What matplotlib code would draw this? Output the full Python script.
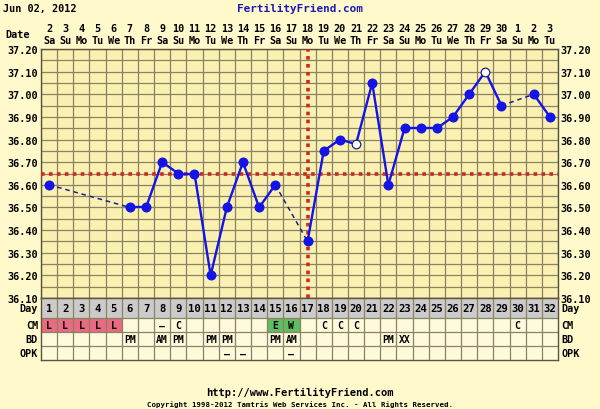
"""
FertilityFriend-style BBT chart: temperature grid on top, CM/BD/OPK table below.
"""
import numpy as np
import matplotlib
matplotlib.use("Agg")
import matplotlib.pyplot as plt

# ---- data ----------------------------------------------------------------
cycle_days = list(range(1, 33))
dates = [2, 3, 4, 5, 6, 7, 8, 9, 10, 11, 12, 13, 14, 15, 16, 17, 18, 19, 20,
         21, 22, 23, 24, 25, 26, 27, 28, 29, 30, 1, 2, 3]
weekdays = ["Sa", "Su", "Mo", "Tu", "We", "Th", "Fr"] * 4 + ["Sa", "Su", "Mo", "Tu"]
temps = [36.60, None, None, None, None, 36.50, 36.50, 36.70, 36.65, 36.65,
         36.20, 36.50, 36.70, 36.50, 36.60, None, 36.35, 36.75, 36.80, 36.78,
         37.05, 36.60, 36.85, 36.85, 36.85, 36.90, 37.00, 37.10, 36.95, None,
         37.00, 36.90]
open_days = [20, 28]
coverline = 36.65
ovulation_day = 17
y_ticks = [36.10, 36.20, 36.30, 36.40, 36.50, 36.60, 36.70, 36.80, 36.90,
           37.00, 37.10, 37.20]

cm = {1: "L", 2: "L", 3: "L", 4: "L", 5: "L", 8: "-", 9: "C", 15: "E",
      16: "W", 18: "C", 19: "C", 20: "C", 30: "C"}
bd = {6: "PM", 8: "AM", 9: "PM", 11: "PM", 12: "PM", 15: "PM", 16: "AM",
      22: "PM", 23: "XX"}
opk = {12: "-", 13: "-", 16: "-"}
row_names = ["Day", "CM", "BD", "OPK"]

# ---- style ---------------------------------------------------------------
W, H = 600, 410
PAGE = "#fff9cc"
CHART_BG = "#f9f0b2"
TABLE_BG = "#fffadc"
GRID = "#8a8262"
DAY_BG = "#cbcbcb"
PINK = "#ea6a82"
GREEN = "#5fbd62"
BLUE = "#1414e6"
FONT = "DejaVu Sans Mono"
FS = 7.3

plt.rcParams["font.family"] = FONT
plt.rcParams["font.weight"] = "bold"


def frac(x0, y0, x1, y1):
    return [x0 / W, 1 - y1 / H, (x1 - x0) / W, (y1 - y0) / H]


fig = plt.figure(figsize=(W / 100, H / 100), dpi=100)
fig.patch.set_facecolor(PAGE)

# ---- temperature chart -------------------------------------------------
CH_L, CH_T, CH_R, CH_B = 41, 50, 558, 299
ax = fig.add_axes(frac(CH_L, CH_T, CH_R, CH_B))
ax.set_facecolor(CHART_BG)
ax.set_xlim(0.5, 32.5)
ax.set_ylim(36.10, 37.20)
ax.set_xticks([])
ax.set_xticks(np.arange(0.5, 33, 1), minor=True)
ax.set_yticks(y_ticks)
ax.set_yticklabels([f"{v:.2f}" for v in y_ticks])
ax.set_yticks(np.arange(36.15, 37.2, 0.1), minor=True)
ax.tick_params(which="both", length=0)
ax.tick_params(axis="y", labelsize=FS, pad=2, labelright=True)
ax.grid(True, which="both", color=GRID, lw=0.9)
ax.set_axisbelow(True)
for s in ax.spines.values():
    s.set_color("#5a5440")
    s.set_linewidth(1.0)

ax.axhline(coverline, color="#cc2a1e", lw=2.6, ls=(0, (1, 1.2)), zorder=3)
ax.axvline(ovulation_day, color="#cc2a1e", lw=2.6, ls=(0, (1, 1.2)), zorder=3)

rec = [(d, t) for d, t in zip(cycle_days, temps) if t is not None]
for (d0, t0), (d1, t1) in zip(rec[:-1], rec[1:]):
    if d1 - d0 == 1:
        ax.plot([d0, d1], [t0, t1], color=BLUE, lw=1.7, zorder=4)
    else:
        ax.plot([d0, d1], [t0, t1], color="#1e1e90", lw=1.1,
                ls=(0, (3, 2.5)), zorder=4)
fill_d = [d for d, t in rec if d not in open_days]
fill_t = [t for d, t in rec if d not in open_days]
ax.plot(fill_d, fill_t, "o", color=BLUE, ms=6.2, zorder=5)
ax.plot(open_days, [temps[d - 1] for d in open_days], "o", mfc="white",
        mec="#1e1e90", mew=0.9, ms=6.2, zorder=5)

xt = ax.get_xaxis_transform()
for d, dt, wd in zip(cycle_days, dates, weekdays):
    ax.text(d, 1 + 21 / (CH_B - CH_T), str(dt), transform=xt, ha="center",
            va="center", fontsize=FS)
    ax.text(d, 1 + 9 / (CH_B - CH_T), wd, transform=xt, ha="center",
            va="center", fontsize=FS)
ax.text(-0.2, 1 + 15 / (CH_B - CH_T), "Date", transform=xt, ha="right",
        va="center", fontsize=FS)

# ---- table ---------------------------------------------------------------
row_edges = [0, 20, 34, 48, 62]
tb = fig.add_axes(frac(CH_L, CH_B, CH_R, CH_B + row_edges[-1]))
tb.set_facecolor(TABLE_BG)
tb.set_xlim(0.5, 32.5)
tb.set_ylim(row_edges[-1], 0)
tb.set_xticks([])
tb.set_yticks([])
for s in tb.spines.values():
    s.set_color("#5a5440")
    s.set_linewidth(1.0)

tb.bar(cycle_days, row_edges[1] - row_edges[0], bottom=row_edges[0], width=1,
       color=DAY_BG, zorder=1)
cm_col = {"L": PINK, "E": GREEN, "W": GREEN}
for d, v in cm.items():
    if v in cm_col:
        tb.bar(d, row_edges[2] - row_edges[1], bottom=row_edges[1], width=1,
               color=cm_col[v], zorder=1)
tb.vlines(np.arange(1.5, 32.5, 1), 0, row_edges[-1], color=GRID, lw=0.9, zorder=2)
tb.hlines(row_edges[1:-1], 0.5, 32.5, color=GRID, lw=0.9, zorder=2)

mid = [(a + b) / 2 for a, b in zip(row_edges[:-1], row_edges[1:])]
for d in cycle_days:
    tb.text(d, mid[0] + 0.5, str(d), ha="center", va="center", fontsize=FS + 0.4)
for r, row in zip(mid[1:], [cm, bd, opk]):
    for d, v in row.items():
        tb.text(d, r + 0.5, "\u2013" if v == "-" else v, ha="center",
                va="center", fontsize=FS - 0.3)
for r, name in zip(mid, row_names):
    tb.text(0.32, r + 0.5, name, ha="right", va="center", fontsize=FS)
    tb.text(32.7, r + 0.5, name, ha="left", va="center", fontsize=FS)

# ---- header / footer -----------------------------------------------------
fig.text(3 / W, 1 - 9 / H, "Jun 02, 2012", ha="left", va="center", fontsize=FS)
fig.text(0.5, 1 - 9 / H, "FertilityFriend.com", ha="center", va="center",
         fontsize=7.9, color="#1a1ab4")
fig.text(0.5, 1 - 393 / H, "http://www.FertilityFriend.com", ha="center",
         va="center", fontsize=7.5)
fig.text(0.5, 1 - 405 / H,
         "Copyright 1998-2012 Tamtris Web Services Inc. - All Rights Reserved.",
         ha="center", va="center", fontsize=5.3)

fig.savefig("out.png", dpi=100, facecolor=PAGE)
